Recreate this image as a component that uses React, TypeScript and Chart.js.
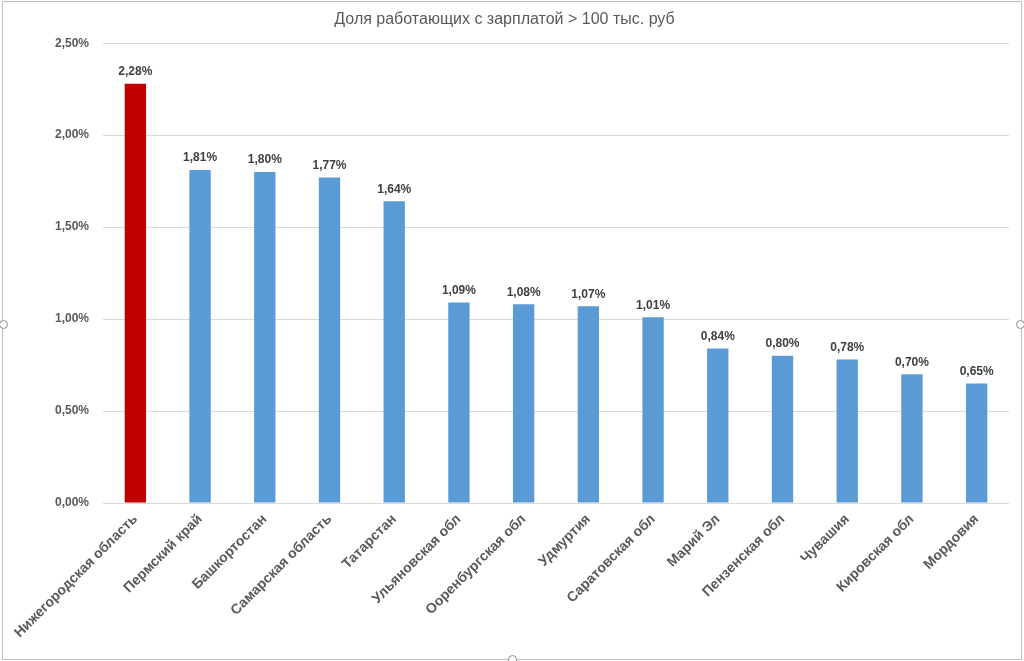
import React, { useEffect, useRef } from "react";
import { Chart, registerables } from "chart.js";

Chart.register(...registerables);

const TITLE = "Доля работающих с зарплатой > 100 тыс. руб";
const REGIONS = [
  "Нижегородская область",
  "Пермский край",
  "Башкортостан",
  "Самарская область",
  "Татарстан",
  "Ульяновская обл",
  "Ооренбургская обл",
  "Удмуртия",
  "Саратовская обл",
  "Марий Эл",
  "Пензенская обл",
  "Чувашия",
  "Кировская обл",
  "Мордовия",
];
const SHARE_PCT = [2.28, 1.81, 1.8, 1.77, 1.64, 1.09, 1.08, 1.07, 1.01, 0.84, 0.8, 0.78, 0.7, 0.65];
const Y_MIN = 0;
const Y_MAX = 2.5;
const Y_STEP = 0.5;

const HIGHLIGHT = "#C00000";
const BASE = "#5B9BD5";
const FONT = "'Liberation Sans', Arial, sans-serif";

const fmt = (v: number) => v.toFixed(2).replace(".", ",") + "%";

const dataLabels = {
  id: "dataLabels",
  afterDatasetsDraw(chart: any) {
    const ctx = chart.ctx;
    const meta = chart.getDatasetMeta(0);
    ctx.save();
    ctx.font = `bold 12px ${FONT}`;
    ctx.fillStyle = "#404040";
    ctx.textAlign = "center";
    ctx.textBaseline = "bottom";
    meta.data.forEach((bar: any, i: number) => {
      const v = chart.data.datasets[0].data[i];
      ctx.fillText(fmt(v), bar.x, bar.y - 6);
    });
    ctx.restore();
  },
};

export default function App() {
  const ref = useRef<HTMLCanvasElement>(null);
  useEffect(() => {
    const chart = new Chart(ref.current!, {
      type: "bar",
      data: {
        labels: REGIONS,
        datasets: [
          {
            data: SHARE_PCT,
            backgroundColor: SHARE_PCT.map((_, i) => (i === 0 ? HIGHLIGHT : BASE)),
            barPercentage: 0.33,
            categoryPercentage: 1,
          },
        ],
      },
      options: {
        animation: false,
        responsive: false,
        maintainAspectRatio: false,
        layout: { padding: { top: 8, right: 15, left: 0, bottom: 0 } },
        plugins: {
          legend: { display: false },
          tooltip: { enabled: false },
          title: {
            display: true,
            text: TITLE,
            color: "#595959",
            font: { family: FONT, size: 16, weight: "normal" },
            padding: { top: 2, bottom: 14 },
          },
        },
        scales: {
          x: {
            grid: { display: false, drawTicks: false },
            border: { display: false },
            ticks: {
              color: "#595959",
              font: { family: FONT, size: 14, weight: "bold" },
              maxRotation: 45,
              minRotation: 45,
              padding: 8,
              autoSkip: false,
            },
            afterFit(scale: any) {
              scale.height = 158;
              scale.paddingLeft = 0;
              scale.paddingRight = 0;
            },
          },
          y: {
            min: Y_MIN,
            max: Y_MAX,
            grid: { color: "#D9D9D9", drawTicks: false },
            border: { display: false },
            ticks: {
              stepSize: Y_STEP,
              color: "#595959",
              font: { family: FONT, size: 12, weight: "bold" },
              padding: 14,
              callback: (v: any) => fmt(Number(v)),
            },
            afterFit(scale: any) {
              scale.width = 103;
            },
          },
        },
      },
      plugins: [dataLabels],
    } as any);
    return () => chart.destroy();
  }, []);

  const handle = (left: number, top: number): React.CSSProperties => ({
    position: "absolute",
    left: left - 4,
    top: top - 4,
    width: 7,
    height: 7,
    borderRadius: "50%",
    border: "1px solid #8C8C8C",
    background: "#fff",
  });

  return (
    <div style={{ position: "fixed", left: 0, top: 0, width: 1024, height: 661, background: "#fff" }}>
      <canvas ref={ref} width={1024} height={661} style={{ position: "absolute", left: 0, top: 0 }} />
      <div
        style={{
          position: "absolute",
          left: 2,
          top: 1,
          width: 1018,
          height: 657,
          border: "1px solid #BFBFBF",
          pointerEvents: "none",
        }}
      />
      <div style={handle(3, 324)} />
      <div style={handle(1020, 324)} />
      <div style={handle(512, 659)} />
    </div>
  );
}
